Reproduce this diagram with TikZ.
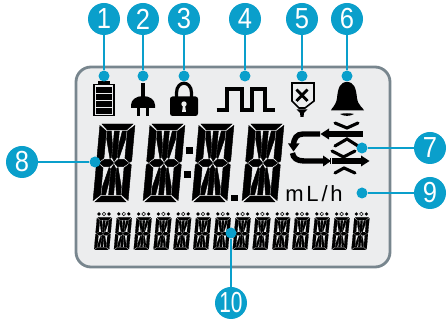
\documentclass[tikz,border=0pt]{standalone}
\usepackage{fontspec}
\setmainfont{Liberation Sans}
\definecolor{cy}{HTML}{0A9FCB}
\definecolor{pn}{HTML}{ECEDEE}
\definecolor{bd}{HTML}{78868E}
\newcommand{\dg}[1]{\scalebox{.88}[1]{#1}}
\tikzset{
  badge/.style={circle,fill=cy,minimum size=32pt,inner sep=0pt,text=white,font=\fontsize{29}{29}\selectfont},
  pin/.style={circle,fill=cy,minimum size=11pt,inner sep=0pt},
  lead/.style={cy,line width=1.3pt},
  cv/.style={draw=black,line width=3.1pt,line cap=round},
  br/.style={draw=black,line width=5.4pt}
}
\newcommand{\segs}{%
  \filldraw (2,0)--(33,0)--(27,6)--(8,6)--cycle;
  \filldraw (2,78)--(33,78)--(27,72)--(8,72)--cycle;
  \filldraw (0,1.5)--(7,7.2)--(7,34)--(1.8,38.4)--(0,37)--cycle;
  \filldraw (35,1.5)--(28,7.2)--(28,34)--(33.2,38.4)--(35,37)--cycle;
  \filldraw (0,76.5)--(7,70.8)--(7,44)--(1.8,39.6)--(0,41)--cycle;
  \filldraw (35,76.5)--(28,70.8)--(28,44)--(33.2,39.6)--(35,41)--cycle;
  \filldraw (2.8,39)--(8,35.3)--(13.5,35.3)--(17.1,39)--(13.5,42.7)--(8,42.7)--cycle;
  \filldraw (32.2,39)--(27,35.3)--(21.5,35.3)--(17.9,39)--(21.5,42.7)--(27,42.7)--cycle;
  \filldraw (15,7)--(20,7)--(20,33)--(17.5,37.5)--(15,33)--cycle;
  \filldraw (15,71)--(20,71)--(20,45)--(17.5,40.5)--(15,45)--cycle;
  \filldraw (8,7)--(12,7)--(14.4,21)--(14.4,33.5)--(13,34.5)--(8,15)--cycle;
  \filldraw (27,7)--(23,7)--(20.6,21)--(20.6,33.5)--(22,34.5)--(27,15)--cycle;
  \filldraw (8,71)--(12,71)--(14.4,57)--(14.4,44.5)--(13,43.5)--(8,63)--cycle;
  \filldraw (27,71)--(23,71)--(20.6,57)--(20.6,44.5)--(22,43.5)--(27,63)--cycle;
}
\newcommand{\bigdig}[1]{\begin{scope}[shift={(#1,124)},xslant=.09,line width=.45pt]\segs\end{scope}}
\newcommand{\smalldig}[1]{%
  \begin{scope}[shift={(#1,217.5)},xslant=.09,xscale=.43,yscale=.415,line width=.15pt]\segs\end{scope}
  \fill (#1+2,214) circle (1.8pt);
  \draw[line width=.5pt] (#1+7,214) circle (1.8pt);
  \fill (#1+12,214) circle (1.8pt);
}
\begin{document}
\begin{tikzpicture}[x=1pt,y=-1pt]
\useasboundingbox (0,0) rectangle (448,320);
\fill[white] (0,0) rectangle (448,320);
% panel
\draw[bd,fill=pn,line width=2.8pt,rounded corners=15pt] (76,67) rectangle (390,267);
% big digits
\foreach \x in {100,150,199,249} {\bigdig{\x}}
\fill (185.5,147.5) rectangle +(7,7);
\fill (183.5,171.5) rectangle +(7,7);
\fill (231,195) rectangle +(6.5,6.5);
% small digits
\foreach \i in {0,...,13} {\pgfmathsetmacro{\xx}{97+19.8*\i}\smalldig{\xx}}
% unit
\node[font=\fontsize{22}{22}\selectfont\addfontfeature{LetterSpace=13},inner sep=0pt] (unit) at (314,193.5) {mL/h};
% battery
\fill (98,81.5) rectangle (110,85);
\draw[line width=1.5pt] (93.8,84.5) rectangle (114.2,115.5);
\foreach \y in {87,94,101,108} {\fill (96,\y) rectangle (112,\y+5.8);}
% plug
\fill (141,83) rectangle (145,98);
\fill (131,108) -- (131,105) .. controls (131,100) and (136,96) .. (143,96) .. controls (150,96) and (155,100) .. (155,105) -- (155,108) -- cycle;
\fill (137,107) rectangle (140,116.5);
\fill (146,107) rectangle (149,116.5);
% lock
\draw[line width=3.2pt] (176.5,99) -- (176.5,93) .. controls (176.5,80) and (191.5,80) .. (191.5,93) -- (191.5,99);
\fill[rounded corners=2.5pt] (170,96.5) rectangle (198,116);
\fill[pn] (184,104) circle (2.7pt);
\fill[pn] (183,105) -- (185,105) -- (186,112) -- (182,112) -- cycle;
% pulse
\draw[line width=3.2pt,line join=miter] (216.5,110) -- (227,110) -- (227,89) -- (242,89) -- (242,110) -- (252,110) -- (252,89) -- (265,89) -- (265,110) -- (275,110);
% bag
\draw[line width=1.6pt,line join=miter] (292,83) -- (314,83) -- (314,101) -- (305,108) -- (299,108) -- (292,101) -- cycle;
\draw[line width=2.8pt] (296.5,89.5) -- (307.5,101) (307.5,89.5) -- (296.5,101);
\fill (296.5,109.5) -- (307.5,109.5) -- (304,113) -- (303.5,117) -- (300.5,117) -- (300,113) -- cycle;
% bell
\fill (331,110.5) .. controls (331,108.5) and (336,106) .. (337,98) .. controls (338,88) and (340,82) .. (347,82) .. controls (354,82) and (356,88) .. (357,98) .. controls (358,106) and (364,108.5) .. (364,110.5) -- cycle;
\fill (340,114) .. controls (344,113) and (350,113) .. (354,114) .. controls (350,116.5) and (344,116.5) .. (340,114) -- cycle;
% flow icon
\draw[cv] (335,123) -- (347,128) -- (358,123);
\draw[cv] (335,146) -- (347,139) -- (358,146);
\draw[cv] (332,151) -- (343.5,157) -- (355,151);
\draw[cv] (335,173) -- (344,168) -- (355,173);
\draw[br] (326,134) -- (363,134);
\draw[br] (330,161) -- (363,161);
\fill (320.5,134) -- (329,128.5) -- (329,139.5) -- cycle;
\fill (369.5,161) -- (361,155.5) -- (361,166.5) -- cycle;
\draw[br] (320,134) -- (303,134) .. controls (297,134) and (293.5,138) .. (293.5,146);
\fill (293.5,151.5) -- (288,143.5) -- (299.5,143.5) -- cycle;
\draw[br] (292.5,153) .. controls (293,158) and (297,161) .. (304,161) -- (325,161);
\fill (331,161) -- (323,155.5) -- (323,166.5) -- cycle;
\draw[pn,line width=.7pt] (331,155.5) -- (331,166.5);
% badges and leads
\foreach \n/\x in {1/104,2/143,3/184,4/245,5/302,6/347} {
  \node[pin] (p\n) at (\x,76) {};
  \node[badge] (b\n) at (\x,19) {\dg{\n}};
  \draw[lead] (b\n) -- (p\n);
}
\node[pin] (p8) at (95,162) {}; \node[badge] (b8) at (22,162) {\dg{8}}; \draw[lead] (b8) -- (p8);
\node[pin] (p7) at (362,148) {}; \node[badge] (b7) at (430,148) {\dg{7}}; \draw[lead] (b7) -- (p7);
\node[pin] (p9) at (362,193) {}; \node[badge] (b9) at (430,193) {\dg{9}}; \draw[lead] (b9) -- (p9);
\node[pin] (p10) at (231,233) {}; \node[badge] (b10) at (231,303) {\scalebox{.72}[1]{10}}; \draw[lead] (b10) -- (p10);
\end{tikzpicture}
\end{document}
